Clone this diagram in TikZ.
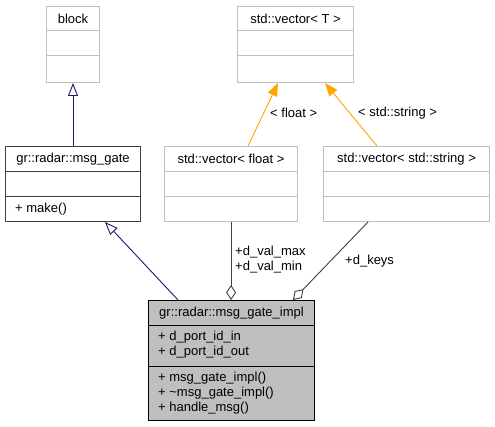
\documentclass[tikz,border=0pt]{standalone}
\usepackage{fontspec}
\setmainfont{Liberation Sans}
\usetikzlibrary{arrows.meta}
\definecolor{boxgray}{HTML}{BFBFBF}
\definecolor{darkborder}{HTML}{404040}
\definecolor{navyline}{HTML}{191970}
\definecolor{orangeline}{HTML}{FFA500}
\definecolor{aggline}{HTML}{404040}
\tikzset{
  extbox/.style={draw=boxgray, line width=1pt, inner sep=0pt, anchor=north west, rectangle},
  gatebox/.style={draw=darkborder, line width=1pt, inner sep=0pt, anchor=north west, rectangle},
  implbox/.style={draw=black, fill=boxgray, line width=1pt, inner sep=0pt, anchor=north west, rectangle},
  txt/.style={inner sep=0pt, font=\fontsize{13}{15}\selectfont, align=left},
  inh/.style={draw=navyline, line width=0.9pt, -{Triangle[open, length=13pt, width=10pt]}},
  tmpl/.style={draw=orangeline, line width=0.9pt, -{Triangle[length=13pt, width=10pt]}},
  agg/.style={draw=aggline, line width=0.9pt, -{Diamond[open, length=15pt, width=10pt, line join=miter]}},
}
\begin{document}
\begin{tikzpicture}[x=1pt, y=1pt]
\useasboundingbox (0,0) rectangle (495,-427);
% block
\node[extbox, minimum width=53pt, minimum height=76pt] (block) at (46,-6) {};
\draw[boxgray, line width=1pt] ([yshift=-25pt]block.north west) -- ([yshift=-25pt]block.north east);
\draw[boxgray, line width=1pt] ([yshift=-50pt]block.north west) -- ([yshift=-50pt]block.north east);
\node[txt] (blockT) at ([yshift=-12.5pt]block.north) {block};
% std::vector< T >
\node[extbox, minimum width=116pt, minimum height=76pt] (vecT) at (237,-6) {};
\draw[boxgray, line width=1pt] ([yshift=-25pt]vecT.north west) -- ([yshift=-25pt]vecT.north east);
\draw[boxgray, line width=1pt] ([yshift=-50pt]vecT.north west) -- ([yshift=-50pt]vecT.north east);
\node[txt] (vecTT) at ([yshift=-12.5pt]vecT.north) {std::vector< T >};
% msg_gate
\node[gatebox, minimum width=135pt, minimum height=75pt] (gate) at (5,-146) {};
\draw[darkborder, line width=1pt] ([yshift=-26pt]gate.north west) -- ([yshift=-26pt]gate.north east);
\draw[darkborder, line width=1pt] ([yshift=-51pt]gate.north west) -- ([yshift=-51pt]gate.north east);
\node[txt] (gateT) at ([yshift=-13pt]gate.north) {gr::radar::msg\_gate};
\node[txt, anchor=west] (gateM) at ([xshift=10pt, yshift=-63pt]gate.north west) {+ make()};
% std::vector< float >
\node[extbox, minimum width=133pt, minimum height=75pt] (fvec) at (164,-146) {};
\draw[boxgray, line width=1pt] ([yshift=-26pt]fvec.north west) -- ([yshift=-26pt]fvec.north east);
\draw[boxgray, line width=1pt] ([yshift=-51pt]fvec.north west) -- ([yshift=-51pt]fvec.north east);
\node[txt] (fvecT) at ([yshift=-13pt]fvec.north) {std::vector< float >};
% std::vector< std::string >
\node[extbox, minimum width=166pt, minimum height=75pt] (svec) at (323,-146) {};
\draw[boxgray, line width=1pt] ([yshift=-26pt]svec.north west) -- ([yshift=-26pt]svec.north east);
\draw[boxgray, line width=1pt] ([yshift=-51pt]svec.north west) -- ([yshift=-51pt]svec.north east);
\node[txt] (svecT) at ([yshift=-13pt]svec.north) {std::vector< std::string >};
% msg_gate_impl
\node[implbox, minimum width=166pt, minimum height=120pt] (impl) at (148,-300) {};
\draw[black, line width=1pt] ([yshift=-26pt]impl.north west) -- ([yshift=-26pt]impl.north east);
\draw[black, line width=1pt] ([yshift=-66pt]impl.north west) -- ([yshift=-66pt]impl.north east);
\node[txt] (implT) at ([yshift=-13pt]impl.north) {gr::radar::msg\_gate\_impl};
\node[txt, anchor=west] (implA) at ([xshift=10pt, yshift=-45pt]impl.north west) {+ d\_port\_id\_in\\+ d\_port\_id\_out};
\node[txt, anchor=west] (implM) at ([xshift=10pt, yshift=-93pt]impl.north west) {+ msg\_gate\_impl()\\+ \textasciitilde msg\_gate\_impl()\\+ handle\_msg()};
% connectors
\draw[inh] (gate.north) -- (block.south);
\draw[inh] ([xshift=30pt]impl.north west) -- ([xshift=100pt]gate.south west);
\draw[tmpl] ([xshift=84pt]fvec.north west) -- ([xshift=41pt]vecT.south west);
\draw[tmpl] ([xshift=54pt]svec.north west) -- ([xshift=88pt]vecT.south west);
\draw[agg] (fvec.south) -- (fvec.south |- impl.north);
\draw[agg] ([xshift=45pt]svec.south west) -- ([xshift=145pt]impl.north west);
% labels
\node[txt, anchor=west] (lblF) at (270,-113) {< float >};
\node[txt, anchor=west] (lblS) at (358,-113) {< std::string >};
\node[txt, anchor=west] (lblV) at (235,-259.5) {+d\_val\_max\\+d\_val\_min};
\node[txt, anchor=west] (lblK) at (345,-261) {+d\_keys};
\end{tikzpicture}
\end{document}
